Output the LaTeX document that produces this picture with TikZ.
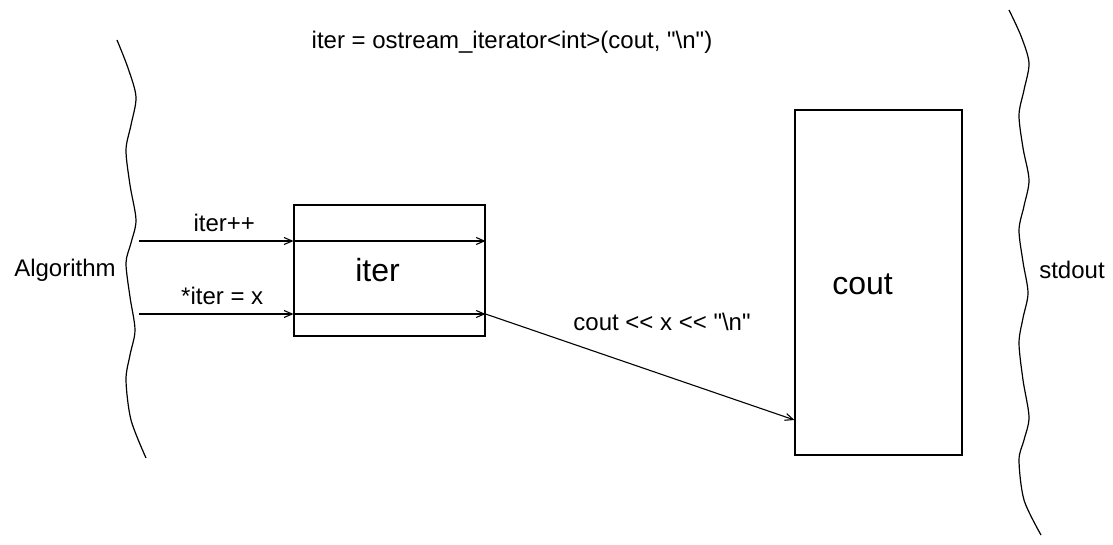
\documentclass[tikz,border=0pt]{standalone}
\usepackage{fontspec}
\setmainfont{Liberation Sans}[Ligatures=TeXOff]
\usetikzlibrary{arrows.meta,positioning}

\begin{document}
\begin{tikzpicture}[
  x=1pt, y=-1pt,
  obj/.style  = {draw, line width=1.1pt, inner sep=0pt},
  lbl/.style  = {font=\fontsize{24}{26}\selectfont, inner sep=0pt},
  big/.style  = {font=\fontsize{32}{34}\selectfont},
  arr/.style  = {-{Straight Barb[length=8pt,width=7pt]}, line width=1.1pt},
  wave/.style = {line width=1.2pt},
]
\useasboundingbox (0,0) rectangle (1113,545);

% the two boundaries
\draw[wave] plot[smooth] coordinates {(117,40) (128,68) (136,97) (131,125) (126,150)
  (130,185) (136,220) (131,243) (126,263) (130,297) (135,330) (130,355) (126,380)
  (131,420) (146,458)};
\draw[wave] plot[smooth] coordinates {(1009,10) (1021,36) (1029,63) (1024,90) (1019,115)
  (1023,148) (1029,180) (1024,206) (1019,230) (1023,262) (1028,293) (1023,318) (1019,343)
  (1023,380) (1029,417) (1024,440) (1019,460) (1024,500) (1041,535)};

\node[lbl] (algo) at (65,270) {Algorithm};
\node[lbl] (out) at (1072,270) {stdout};
\node[lbl] (decl) at (512,42) {iter = ostream\_iterator<int>(cout, "\textbackslash n")};

% iterator and stream objects
\node[obj, minimum width=191pt, minimum height=131pt,
      label={[big, xshift=-12pt]center:iter}] (iter) at (389.5,270.5) {};
\node[obj, minimum width=167pt, minimum height=345pt,
      label={[big, xshift=-16pt, yshift=-2pt]center:cout}] (cout) at (878.5,282.5) {};

\coordinate (inc) at (139,241);
\coordinate (put) at (139,314);
\coordinate (sink) at (cout.west |- 0,420);

\draw[arr] (inc) -- node[lbl, above=9pt, xshift=8pt] {iter++} (inc -| iter.west);
\draw[arr] (inc -| iter.west) -- (inc -| iter.east);
\draw[arr] (put) -- node[lbl, above=9pt, xshift=6pt] {*iter = x} (put -| iter.west);
\draw[arr] (put -| iter.west) -- (put -| iter.east);
\draw[arr] (put -| iter.east) -- (sink);

\node[lbl] (write) at (662,322) {cout << x << "\textbackslash n"};

\end{tikzpicture}
\end{document}
